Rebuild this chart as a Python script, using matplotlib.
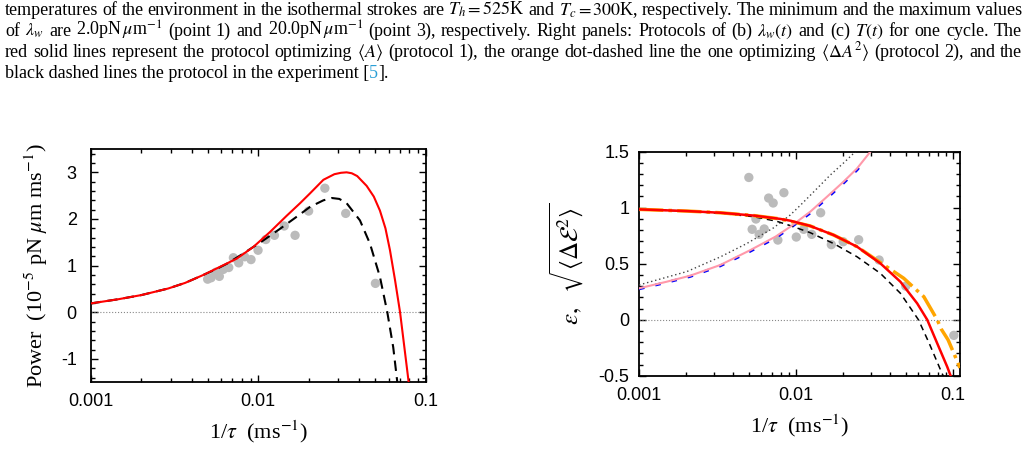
import re
import matplotlib
matplotlib.use('Agg')
import matplotlib.pyplot as plt
from matplotlib.ticker import FixedLocator, LogLocator, MultipleLocator, FuncFormatter, NullFormatter

plt.rcParams['mathtext.fontset'] = 'stix'
plt.rcParams['axes.unicode_minus'] = False
plt.rcParams['font.family'] = 'Liberation Sans'

# ---- (a) power vs 1/tau ----
pow_red_x = [0.001, 0.00146, 0.00201, 0.0029, 0.00366, 0.0047, 0.00565, 0.00744, 0.00935, 0.01175,
             0.0148, 0.0178, 0.0204, 0.0245, 0.0285, 0.0312, 0.0337, 0.0362, 0.039, 0.0444, 0.049,
             0.0533, 0.0575, 0.0612, 0.0656, 0.0703, 0.0792]
pow_red_y = [0.19, 0.28, 0.37, 0.51, 0.63, 0.80, 0.94, 1.15, 1.40, 1.72,
             2.07, 2.34, 2.55, 2.84, 2.96, 2.99, 3.00, 2.98, 2.92, 2.71, 2.48,
             2.18, 1.80, 1.33, 0.69, 0.0, -1.51]
pow_exp_x = [0.001, 0.00146, 0.00201, 0.0029, 0.00366, 0.0047, 0.00565, 0.00649, 0.00815, 0.01072,
             0.0135, 0.0170, 0.0204, 0.0245, 0.0275, 0.0305, 0.0337, 0.0405, 0.0465, 0.0533,
             0.0590, 0.0640, 0.0677]
pow_exp_y = [0.19, 0.28, 0.37, 0.51, 0.63, 0.80, 0.93, 1.04, 1.26, 1.54,
             1.79, 2.05, 2.26, 2.40, 2.45, 2.43, 2.34, 1.97, 1.47, 0.76,
             0.0, -0.75, -1.5]
pow_dot_x = [0.00499, 0.00523, 0.0056, 0.00586, 0.00619, 0.00667, 0.00711, 0.00765, 0.0083, 0.00906,
             0.00998, 0.0111, 0.0125, 0.0143, 0.0166, 0.0200, 0.0250, 0.0333, 0.0501]
pow_dot_y = [0.71, 0.74, 0.86, 0.77, 0.92, 0.96, 1.17, 1.06, 1.19, 1.13,
             1.33, 1.56, 1.65, 1.85, 1.65, 2.17, 2.66, 2.12, 0.62]

# ---- efficiency and its fluctuation vs 1/tau ----
eff_red_x = [0.001, 0.00202, 0.00329, 0.00536, 0.00794, 0.0092, 0.01233, 0.01738, 0.0245, 0.0345,
             0.0463, 0.0592, 0.0686, 0.0794, 0.092, 0.0955, 0.0985]
eff_red_y = [0.985, 0.97, 0.955, 0.93, 0.90, 0.884, 0.837, 0.756, 0.652, 0.503,
             0.339, 0.146, 0.0, -0.21, -0.42, -0.48, -0.53]
eff_exp_x = [0.001, 0.002, 0.00329, 0.00536, 0.0075, 0.0092, 0.01233, 0.01738, 0.0245, 0.0345,
             0.0463, 0.0603, 0.0706, 0.0853, 0.089]
eff_exp_y = [0.985, 0.97, 0.95, 0.92, 0.88, 0.84, 0.777, 0.68, 0.562, 0.414,
             0.236, 0.0, -0.21, -0.48, -0.53]
eff_p2_x = [0.001, 0.00202, 0.00329, 0.00536, 0.00794, 0.01233, 0.01738, 0.0245, 0.0345, 0.0486,
            0.0653, 0.0794, 0.0844, 0.0932, 0.108, 0.111]
eff_p2_y = [0.985, 0.97, 0.955, 0.93, 0.90, 0.837, 0.756, 0.652, 0.51, 0.37,
            0.205, 0.0, -0.085, -0.18, -0.39, -0.43]
fl_red_x = [0.001, 0.0015, 0.00212, 0.00329, 0.0051, 0.0074, 0.0092, 0.01233, 0.01578, 0.0201, 0.0245, 0.0298]
fl_red_y = [0.28, 0.339, 0.393, 0.488, 0.62, 0.741, 0.83, 0.964, 1.098, 1.232, 1.35, 1.5]
fl_p2_x = [0.001, 0.0015, 0.00212, 0.00329, 0.0051, 0.0074, 0.0092, 0.01233, 0.01578, 0.0201, 0.0245, 0.0277]
fl_p2_y = [0.275, 0.333, 0.386, 0.48, 0.61, 0.73, 0.82, 0.952, 1.085, 1.22, 1.337, 1.426]
fl_exp_x = [0.001, 0.00202, 0.00329, 0.00486, 0.0072, 0.0092, 0.01064, 0.01233, 0.0165, 0.0205, 0.0239]
fl_exp_y = [0.31, 0.43, 0.56, 0.68, 0.82, 0.935, 1.02, 1.11, 1.29, 1.41, 1.5]
eff_dot_x = [0.00501, 0.00526, 0.00556, 0.00583, 0.00628, 0.0067, 0.00716, 0.00767, 0.00838, 0.01005,
             0.0112, 0.0126, 0.01437, 0.01681, 0.02, 0.0251, 0.0339, 0.0501, 0.1014]
eff_dot_y = [1.27, 0.807, 0.899, 0.762, 0.81, 1.086, 1.042, 0.711, 1.134, 0.738,
             0.807, 0.762, 0.955, 0.67, 0.696, 0.714, 0.533, 0.30, -0.14]

caption = [
    r'temperatures of the environment in the isothermal strokes are $T_h = 525$K and $T_c = 300$K, respectively. The minimum and the maximum values',
    r'of $\lambda_w$ are 2.0pN$\,\mu$m$^{-1}$ (point 1) and 20.0pN$\,\mu$m$^{-1}$ (point 3), respectively. Right panels: Protocols of (b) $\lambda_w(t)$ and (c) $T(t)$ for one cycle. The',
    r'red solid lines represent the protocol optimizing $\langle A\rangle$ (protocol 1), the orange dot-dashed line the one optimizing $\langle\Delta A^2\rangle$ (protocol 2), and the',
]
caption_last = ['black dashed lines the protocol in the experiment [', '5', '].']

W, H = 1028, 455
fig = plt.figure(figsize=(W / 100, H / 100), dpi=100)

serif = 'Liberation Serif'
grey = '#bbbbbb'


def style_axes(ax, ymajor, yminor, fmt):
    ax.set_xscale('log')
    ax.xaxis.set_major_locator(FixedLocator([0.001, 0.01, 0.1]))
    ax.xaxis.set_minor_locator(LogLocator(base=10, subs=range(2, 10)))
    ax.xaxis.set_minor_formatter(NullFormatter())
    ax.xaxis.set_major_formatter(FuncFormatter(lambda v, p: '%g' % v))
    ax.yaxis.set_major_locator(MultipleLocator(ymajor))
    ax.yaxis.set_minor_locator(MultipleLocator(yminor))
    ax.yaxis.set_major_formatter(FuncFormatter(fmt))
    ax.tick_params(which='both', direction='in', top=True, right=True, labelsize=13, width=1)
    ax.tick_params(which='major', length=5)
    ax.tick_params(which='minor', length=3)
    ax.tick_params(axis='x', pad=8)
    for s in ax.spines.values():
        s.set_linewidth(1.3)


# left panel
ax1 = fig.add_axes([90.7 / W, 1 - 382.3 / H, 335 / W, 233.3 / H])
ax1.axhline(0, color='#888888', lw=0.8, ls=':')
ax1.scatter(pow_dot_x, pow_dot_y, s=45, color=grey, edgecolors='none', zorder=2)
ax1.plot(pow_exp_x, pow_exp_y, color='black', lw=1.5, ls=(0, (5, 3)), zorder=3)
ax1.plot(pow_red_x, pow_red_y, color='red', lw=1.5, zorder=4)
ax1.set_xlim(0.001, 0.1)
ax1.set_ylim(-1.5, 3.5)
style_axes(ax1, 1, 0.2, lambda v, p: '%d' % round(v))
ax1.tick_params(axis='y', pad=10)
ax1.set_xlabel(r'1/$\tau$  (ms$^{\mathrm{-1}}$)', family=serif, fontsize=16, labelpad=6)
ax1.set_ylabel(r'Power  (10$^{\mathrm{-5}}$ pN $\mu$m ms$^{\mathrm{-1}}$)', family=serif, fontsize=16, labelpad=8)

# right panel
ax2 = fig.add_axes([639 / W, 1 - 375.7 / H, 321 / W, 224 / H])
ax2.axhline(0, color='#888888', lw=0.8, ls=':')
ax2.scatter(eff_dot_x, eff_dot_y, s=45, color=grey, edgecolors='none', zorder=2)
ax2.plot(fl_exp_x, fl_exp_y, color='#444444', lw=1.0, ls=(0, (1, 2)), zorder=3)
ax2.plot(fl_p2_x, fl_p2_y, color='blue', lw=2.0, ls=(0, (2, 4)), zorder=3)
ax2.plot(fl_red_x, fl_red_y, color='#ff99aa', lw=1.5, zorder=4)
ax2.plot(eff_exp_x, eff_exp_y, color='black', lw=1.1, ls=(0, (4, 3)), zorder=3)
ax2.plot(eff_p2_x, eff_p2_y, color='orange', lw=2.5, ls=(0, (7, 1.5, 1, 1.5)), zorder=3)
ax2.plot(eff_red_x, eff_red_y, color='red', lw=1.8, zorder=4)
ax2.set_xlim(0.001, 0.111)
ax2.set_ylim(-0.5, 1.5)
style_axes(ax2, 0.5, 0.1, lambda v, p: '%g' % v)
ax2.tick_params(axis='y', pad=7)
ax2.set_xlabel(r'1/$\tau$  (ms$^{\mathrm{-1}}$)', family=serif, fontsize=16, labelpad=6)
ax2.set_ylabel(r'$\varepsilon,\ \ \sqrt{\langle\Delta\mathcal{E}^2\rangle}$', family=serif, fontsize=18, labelpad=9)

# caption text above the panels, justified like the source page
cap_size = 13
left_px, right_px = 5, 1022
baselines = [15, 36, 57, 78]
r = fig.canvas.get_renderer()


def split_words(line):
    # split on spaces that are not inside $...$
    return re.findall(r'(?:\$[^$]*\$|[^\s$])+', line)


for line, yb in zip(caption, baselines):
    words = split_words(line)
    texts = [fig.text(0, 1 - yb / H, w, family=serif, fontsize=cap_size, va='baseline') for w in words]
    widths = [t.get_window_extent(r).width for t in texts]
    gap = (right_px - left_px - sum(widths)) / (len(words) - 1)
    x = left_px
    for t, w in zip(texts, widths):
        t.set_x(x / W)
        x += w + gap

x = left_px
for piece in caption_last:
    color = '#2a9fd6' if piece == '5' else 'black'
    t = fig.text(x / W, 1 - baselines[3] / H, piece, family=serif, fontsize=cap_size, va='baseline', color=color)
    x += t.get_window_extent(r).width

fig.savefig('out.png', dpi=100)
